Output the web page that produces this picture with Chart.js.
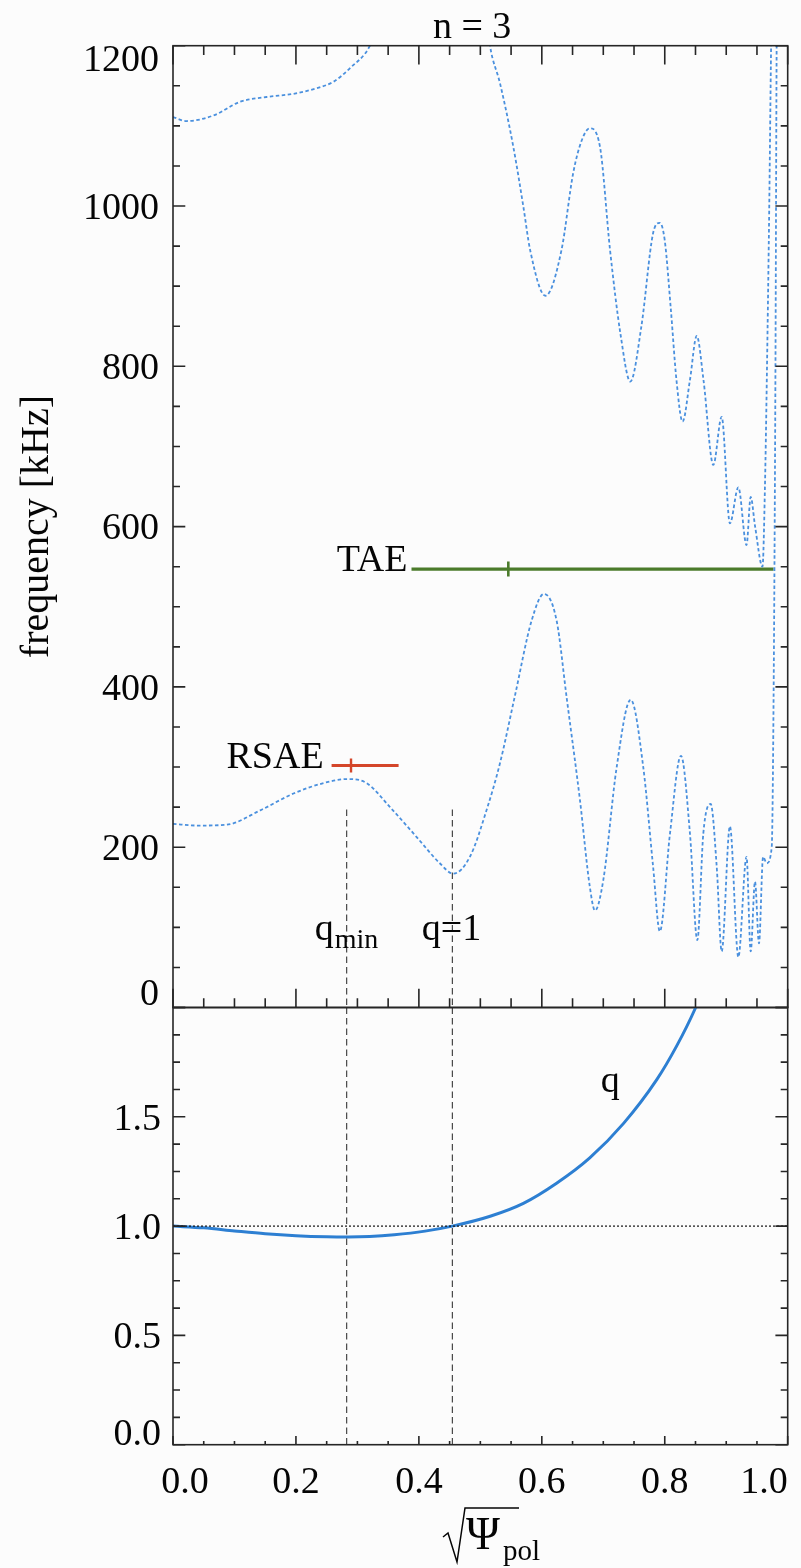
<!DOCTYPE html>
<html><head><meta charset="utf-8">
<script src="https://cdn.jsdelivr.net/npm/chart.js@4.4.1/dist/chart.umd.min.js"></script>
<style>
html,body{margin:0;padding:0;background:#fcfcfc;}
#wrap{position:relative;width:801px;height:1568px;}
canvas{position:absolute;left:0;top:0;}
</style></head><body>
<div id="wrap"><canvas id="topPanel" width="801" height="1568"></canvas><canvas id="botPanel" width="801" height="1568"></canvas></div>
<script>
const FONT = "'Liberation Serif', 'Times New Roman', serif";
const AXIS = '#262626';
const INK = '#050505';

// ---- tick labels ----
const psiTicks = [0, 0.2, 0.4, 0.6, 0.8, 1.0];
const psiTickLabels = ['0.0', '0.2', '0.4', '0.6', '0.8', '1.0'];
const freqTicks = [0, 200, 400, 600, 800, 1000, 1200];
const freqTickLabels = ['0', '200', '400', '600', '800', '1000', '1200'];
const qTicks = [0, 0.5, 1.0, 1.5, 2.0];
const qTickLabels = ['0.0', '0.5', '1.0', '1.5', ''];

// ---- Alfven continuum, upper branch (sqrt psi_pol, kHz) ----
const psiUpper = [0, 0.022, 0.066, 0.109, 0.152, 0.196, 0.234, 0.261, 0.288, 0.3205, 0.34, 0.36,
  0.50, 0.5157, 0.532, 0.5536, 0.570, 0.581, 0.606, 0.632, 0.651, 0.665, 0.678, 0.6946, 0.711, 0.728,
  0.744, 0.762, 0.781, 0.792, 0.800, 0.810, 0.819, 0.829, 0.841, 0.852, 0.863, 0.879, 0.8926, 0.906,
  0.9197, 0.933, 0.9398, 0.947, 0.959, 0.963, 0.966, 0.970, 0.973, 0.975];
const freqUpper = [1111, 1106, 1113, 1130, 1136, 1140, 1147, 1155, 1172, 1200, 1240, 1300,
  1300, 1200, 1153, 1074, 999, 945, 888, 945, 1041, 1082, 1097, 1074, 945, 840,
  781, 850, 966, 979, 957, 870, 783, 731, 783, 838, 783, 677, 737, 604,
  649, 577, 637, 600, 550, 650, 783, 1000, 1200, 1300];

// ---- Alfven continuum, lower branch ----
const psiLower = [0, 0.04, 0.087, 0.142, 0.196, 0.245, 0.283, 0.315, 0.353, 0.396, 0.434, 0.456,
  0.483, 0.51, 0.532, 0.556, 0.5835, 0.6035, 0.624, 0.6405, 0.662, 0.678, 0.6865, 0.700, 0.7218,
  0.7446, 0.765, 0.781, 0.792, 0.8085, 0.8264, 0.841, 0.853, 0.8627, 0.8747, 0.8845, 0.8926, 0.906,
  0.9197, 0.933, 0.9398, 0.9468, 0.9533, 0.960, 0.9658, 0.974, 0.977, 0.980, 0.982, 0.983];
const freqLower = [229, 227, 228, 246, 267, 280, 285, 280, 250, 213, 180, 167,
  188, 246, 305, 388, 483, 516, 483, 386, 259, 151, 121, 159, 300,
  384, 300, 176, 95, 217, 314, 217, 84, 217, 254, 176, 70, 226,
  63, 188, 70, 157, 80, 188, 180, 200, 383, 783, 1200, 1300];

// ---- safety factor profile ----
const psiQ = [0, 0.05, 0.10, 0.15, 0.20, 0.25, 0.285, 0.32, 0.36, 0.41, 0.4544, 0.516,
  0.570, 0.624, 0.678, 0.733, 0.787, 0.819, 0.849, 0.853];
const qProfile = [1.0, 0.992, 0.978, 0.965, 0.956, 0.951, 0.950, 0.952, 0.960, 0.977, 1.0, 1.045,
  1.104, 1.196, 1.312, 1.470, 1.670, 1.822, 1.992, 2.02];

// ---- observed modes ----
const taeSpan = [0.388, 0.977]; const taeFreq = 547; const taeCentre = 0.5455; const taeHalf = 9.4;
const rsaeSpan = [0.258, 0.367]; const rsaeFreq = 302; const rsaeCentre = 0.2896; const rsaeHalf = 8.7;
const qminPsi = 0.2826; const q1Psi = 0.4544;
const markerTopFreq = 247;
const qOne = 1.0;

const pts = (xs, ys) => xs.map((x, i) => ({ x: x, y: ys[i] }));

function withMinors(majors, n) {
  const out = [];
  for (let i = 0; i < majors.length; i++) {
    out.push({ v: majors[i], major: true });
    if (i < majors.length - 1) {
      for (let k = 1; k < n; k++) out.push({ v: majors[i] + (majors[i + 1] - majors[i]) * k / n, major: false });
    }
  }
  return out;
}

const BLUE_DOT = '#4a90de';
const BLUE_Q = '#2d7fd2';
const GREEN = '#4b7b2b';
const RED = '#d4462a';

const baseOptions = {
  responsive: false, animation: false, devicePixelRatio: 1,
  plugins: { legend: { display: false }, tooltip: { enabled: false } },
  elements: { point: { radius: 0 } },
};

// ================= TOP PANEL =================
const topAxes = {
  id: 'topAxes',
  afterDraw(chart) {
    const { ctx, chartArea: a, scales: { x, y } } = chart;
    ctx.save();
    ctx.strokeStyle = AXIS; ctx.lineWidth = 1.6;
    ctx.beginPath();
    withMinors(psiTicks, 4).forEach(t => {
      const px = x.getPixelForValue(t.v); const L = t.major ? 18.7 : 9.3;
      ctx.moveTo(px, a.top); ctx.lineTo(px, a.top + L);
      ctx.moveTo(px, a.bottom); ctx.lineTo(px, a.bottom - L);
    });
    withMinors(freqTicks, 4).forEach(t => {
      const py = y.getPixelForValue(t.v); const L = t.major ? 12.3 : 7;
      ctx.moveTo(a.left, py); ctx.lineTo(a.left + L, py);
      ctx.moveTo(a.right, py); ctx.lineTo(a.right - L, py);
    });
    ctx.stroke();
    ctx.strokeRect(a.left, a.top, a.right - a.left, a.bottom - a.top);

    ctx.fillStyle = INK;
    ctx.font = '38px ' + FONT;
    ctx.textAlign = 'right'; ctx.textBaseline = 'alphabetic';
    freqTicks.forEach((v, i) => {
      const py = y.getPixelForValue(v);
      let base = py + 12.8;
      if (i === 0) base = a.bottom - 2.5;
      if (i === freqTicks.length - 1) base = a.top + 25.7;
      ctx.fillText(freqTickLabels[i], a.left - 14, base);
    });

    // title
    ctx.textAlign = 'center';
    ctx.fillText('n = 3', x.getPixelForValue(0.4866), a.top - 8);

    // y title
    ctx.save();
    ctx.translate(37, (a.top + a.bottom) / 2);
    ctx.rotate(-Math.PI / 2);
    ctx.textAlign = 'center'; ctx.textBaseline = 'middle';
    ctx.font = '40px ' + FONT;
    ctx.fillText('frequency [kHz]', 0, 0);
    ctx.restore();

    // mode labels
    ctx.textAlign = 'right';
    ctx.fillText('TAE', x.getPixelForValue(taeSpan[0]) - 4, y.getPixelForValue(taeFreq) + 2);
    ctx.fillText('RSAE', x.getPixelForValue(rsaeSpan[0]) - 8, y.getPixelForValue(rsaeFreq) + 3);

    // q markers
    ctx.textAlign = 'left';
    const lb = y.getPixelForValue(84);
    const qx = x.getPixelForValue(qminPsi) - 32;
    ctx.fillText('q', qx, lb);
    const qw = ctx.measureText('q').width;
    ctx.font = '28px ' + FONT;
    ctx.fillText('min', qx + qw + 1, lb + 8);
    ctx.font = '38px ' + FONT;
    ctx.fillText('q=1', x.getPixelForValue(q1Psi) - 30.6, lb);
    ctx.restore();
  }
};

new Chart(document.getElementById('topPanel'), {
  type: 'line',
  data: {
    datasets: [
      { data: pts(psiUpper, freqUpper), borderColor: BLUE_DOT, borderWidth: 1.8, borderDash: [3.5, 2.5], cubicInterpolationMode: 'monotone' },
      { data: pts(psiLower, freqLower), borderColor: BLUE_DOT, borderWidth: 1.8, borderDash: [3.5, 2.5], cubicInterpolationMode: 'monotone' },
      { data: pts(taeSpan, [taeFreq, taeFreq]), borderColor: GREEN, borderWidth: 3.2 },
      { data: pts([taeCentre, taeCentre], [taeFreq - taeHalf, taeFreq + taeHalf]), borderColor: GREEN, borderWidth: 2.6 },
      { data: pts(rsaeSpan, [rsaeFreq, rsaeFreq]), borderColor: RED, borderWidth: 3 },
      { data: pts([rsaeCentre, rsaeCentre], [rsaeFreq - rsaeHalf, rsaeFreq + rsaeHalf]), borderColor: RED, borderWidth: 2.4 },
      { data: pts([qminPsi, qminPsi], [markerTopFreq, 0]), borderColor: '#222', borderWidth: 1, borderDash: [6.5, 4] },
      { data: pts([q1Psi, q1Psi], [markerTopFreq, 0]), borderColor: '#222', borderWidth: 1, borderDash: [6.5, 4] },
    ]
  },
  options: {
    ...baseOptions,
    layout: { padding: { left: 173, right: 13.3, top: 45.7, bottom: 560.5 } },
    scales: {
      x: { type: 'linear', min: 0, max: 1, display: false },
      y: { type: 'linear', min: 0, max: 1200, display: false }
    }
  },
  plugins: [topAxes]
});

// ================= BOTTOM PANEL =================
const botAxes = {
  id: 'botAxes',
  afterDraw(chart) {
    const { ctx, chartArea: a, scales: { x, y } } = chart;
    ctx.save();
    ctx.strokeStyle = AXIS; ctx.lineWidth = 1.6;
    ctx.beginPath();
    withMinors(psiTicks, 4).forEach(t => {
      const px = x.getPixelForValue(t.v); const L = t.major ? 8.7 : 3.7;
      ctx.moveTo(px, a.bottom); ctx.lineTo(px, a.bottom - L);
    });
    withMinors(qTicks, 4).forEach(t => {
      const py = y.getPixelForValue(t.v); const L = t.major ? 12.3 : 7;
      ctx.moveTo(a.left, py); ctx.lineTo(a.left + L, py);
      ctx.moveTo(a.right, py); ctx.lineTo(a.right - L, py);
    });
    ctx.stroke();
    ctx.strokeRect(a.left, a.top, a.right - a.left, a.bottom - a.top);

    ctx.fillStyle = INK;
    ctx.font = '38px ' + FONT;
    ctx.textAlign = 'right'; ctx.textBaseline = 'alphabetic';
    qTicks.forEach((v, i) => {
      if (!qTickLabels[i]) return;
      const py = y.getPixelForValue(v);
      let base = py + 12.8;
      if (i === 0) base = a.bottom;
      ctx.fillText(qTickLabels[i], a.left - 12, base);
    });

    // x tick labels
    psiTicks.forEach((v, i) => {
      const px = x.getPixelForValue(v);
      if (i === 0) { ctx.textAlign = 'center'; ctx.fillText(psiTickLabels[i], px + 12, a.bottom + 48.5); }
      else if (i === psiTicks.length - 1) { ctx.textAlign = 'right'; ctx.fillText(psiTickLabels[i], a.right, a.bottom + 48.5); }
      else { ctx.textAlign = 'center'; ctx.fillText(psiTickLabels[i], px, a.bottom + 48.5); }
    });

    // q label
    ctx.textAlign = 'left';
    ctx.fillText('q', x.getPixelForValue(0.696), y.getPixelForValue(1.613));

    // x title: sqrt(Psi_pol)
    ctx.strokeStyle = INK; ctx.lineWidth = 1.5;
    ctx.beginPath();
    ctx.moveTo(443, 1537); ctx.lineTo(448, 1533); ctx.lineTo(457, 1562); ctx.lineTo(465, 1508); ctx.lineTo(519, 1508);
    ctx.stroke();
    ctx.font = '46px ' + FONT;
    ctx.fillText('\u03A8', 466, 1549);
    ctx.font = '29px ' + FONT;
    ctx.fillText('pol', 503, 1560);
    ctx.restore();
  }
};

new Chart(document.getElementById('botPanel'), {
  type: 'line',
  data: {
    datasets: [
      { data: pts([0, 1], [qOne, qOne]), borderColor: '#111', borderWidth: 1.2, borderDash: [2, 2] },
      { data: pts([qminPsi, qminPsi], [2, 0]), borderColor: '#222', borderWidth: 1, borderDash: [6.5, 4] },
      { data: pts([q1Psi, q1Psi], [2, 0]), borderColor: '#222', borderWidth: 1, borderDash: [6.5, 4] },
      { data: pts(psiQ, qProfile), borderColor: BLUE_Q, borderWidth: 3, cubicInterpolationMode: 'monotone' },
    ]
  },
  options: {
    ...baseOptions,
    layout: { padding: { left: 173, right: 13.3, top: 1007.5, bottom: 123.3 } },
    scales: {
      x: { type: 'linear', min: 0, max: 1, display: false },
      y: { type: 'linear', min: 0, max: 2, display: false }
    }
  },
  plugins: [botAxes]
});
</script></body></html>
